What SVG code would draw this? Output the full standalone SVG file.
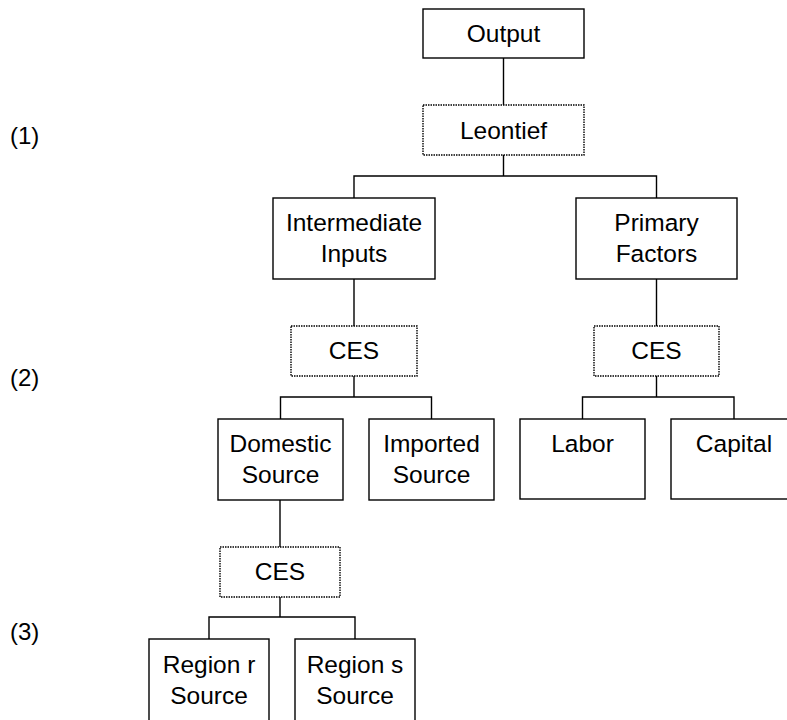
<svg xmlns="http://www.w3.org/2000/svg" width="787" height="720" viewBox="0 0 787 720">
<style>
.box{fill:#fff;stroke:#000;stroke-width:1.4}
.dot{fill:#fff;stroke:#000;stroke-width:1.4;stroke-dasharray:1.5 1}
.t{font-family:"Liberation Sans",Arial,sans-serif;font-size:24.5px;fill:#000;text-anchor:middle}
.lbl{font-family:"Liberation Sans",Arial,sans-serif;font-size:24px;fill:#000}
.c{fill:none;stroke:#000;stroke-width:1.4}
</style>
<rect width="787" height="720" fill="#fff"/>
<g id="connectors">
<path class="c" d="M503.5,58V105"/>
<path class="c" d="M503.5,155V176M354,198V176H656.5V198"/>
<path class="c" d="M354,279V326M656.5,279V326"/>
<path class="c" d="M354,376V397M280.5,419V397H431.5V419"/>
<path class="c" d="M656.5,376V397M582.5,419V397H734V419"/>
<path class="c" d="M280,500V547"/>
<path class="c" d="M280,597V617M209,639V617H355V639"/>
</g>
<g id="level-labels">
<text class="lbl" x="10" y="144">(1)</text>
<text class="lbl" x="10" y="386">(2)</text>
<text class="lbl" x="10" y="640">(3)</text>
</g>
<g id="output"><rect class="box" x="423" y="9" width="161" height="49"/><text class="t" x="503.5" y="42">Output</text></g>
<g id="leontief"><rect class="dot" x="423" y="105" width="161" height="50"/><text class="t" x="503.5" y="139">Leontief</text></g>
<g id="intermediate"><rect class="box" x="273" y="198" width="162" height="81"/><text class="t" x="354" y="230.5">Intermediate</text><text class="t" x="354" y="261.5">Inputs</text></g>
<g id="primary"><rect class="box" x="576" y="198" width="161" height="81"/><text class="t" x="656.5" y="230.5">Primary</text><text class="t" x="656.5" y="261.5">Factors</text></g>
<g id="ces-intermediate"><rect class="dot" x="291" y="326" width="126" height="50"/><text class="t" x="354" y="359">CES</text></g>
<g id="ces-primary"><rect class="dot" x="594" y="326" width="125" height="50"/><text class="t" x="656.5" y="359">CES</text></g>
<g id="domestic"><rect class="box" x="218" y="419" width="125" height="81"/><text class="t" x="280.5" y="451.5">Domestic</text><text class="t" x="280.5" y="482.5">Source</text></g>
<g id="imported"><rect class="box" x="369" y="419" width="125" height="81"/><text class="t" x="431.5" y="451.5">Imported</text><text class="t" x="431.5" y="482.5">Source</text></g>
<g id="labor"><rect class="box" x="520" y="419" width="125" height="80"/><text class="t" x="582.5" y="451.5">Labor</text></g>
<g id="capital"><rect class="box" x="671" y="419" width="126" height="80"/><text class="t" x="734" y="451.5">Capital</text></g>
<g id="ces-domestic"><rect class="dot" x="220" y="547" width="120" height="50"/><text class="t" x="280" y="580">CES</text></g>
<g id="region-r"><rect class="box" x="149" y="639" width="120" height="90"/><text class="t" x="209" y="673">Region r</text><text class="t" x="209" y="704">Source</text></g>
<g id="region-s"><rect class="box" x="295" y="639" width="120" height="90"/><text class="t" x="355" y="673">Region s</text><text class="t" x="355" y="704">Source</text></g>
</svg>
